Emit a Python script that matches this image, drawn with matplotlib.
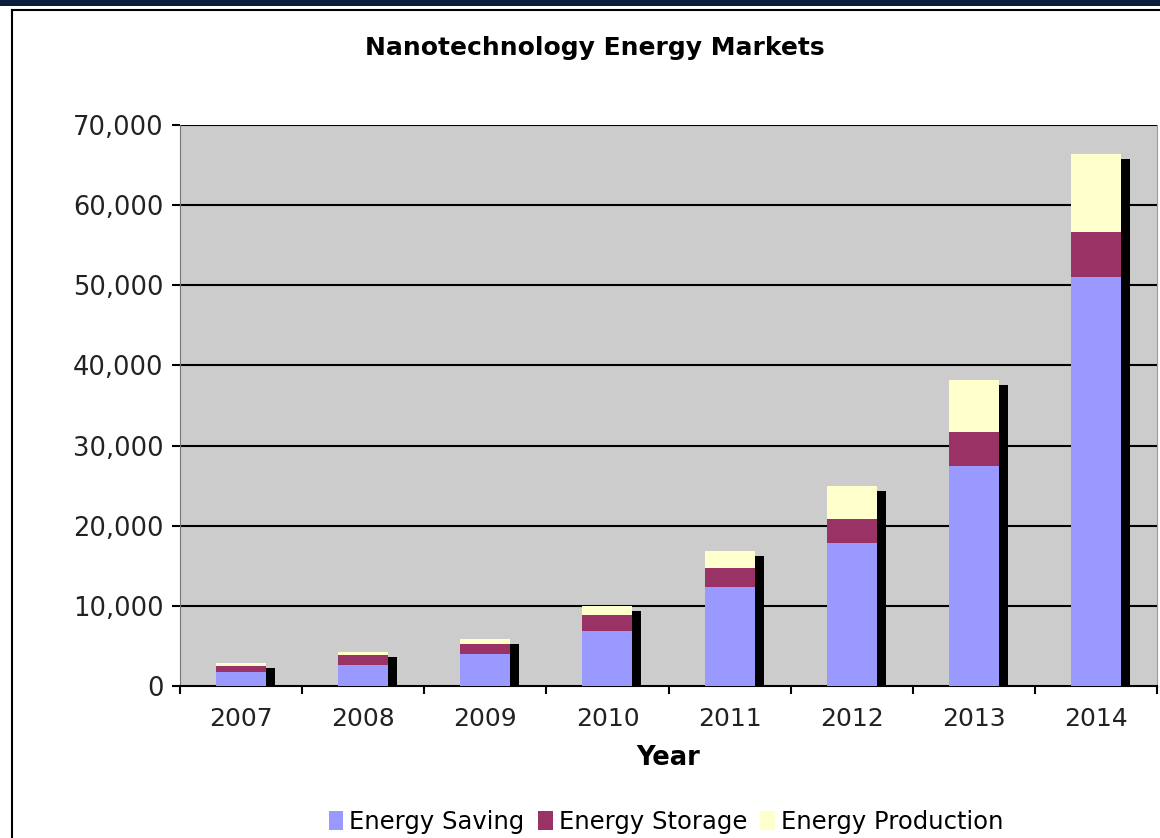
import matplotlib
matplotlib.use("Agg")
import matplotlib.pyplot as plt
from matplotlib.transforms import ScaledTranslation
from matplotlib.lines import Line2D
from matplotlib.patches import Rectangle, Patch
import numpy as np

years = ["2007", "2008", "2009", "2010", "2011", "2012", "2013", "2014"]
energy_saving = [1800, 2600, 3950, 6900, 12300, 17900, 27400, 51000]
energy_storage = [750, 1300, 1350, 2000, 2400, 3000, 4300, 5650]
energy_production = [350, 300, 550, 1100, 2150, 4050, 6500, 9700]
yticks = [0, 10000, 20000, 30000, 40000, 50000, 60000, 70000]

W, H = 1160, 838
fig = plt.figure(figsize=(W / 100, H / 100), dpi=100)
fig.patch.set_facecolor("white")

# outer frame
fig.patches.append(Rectangle((0, 1 - 6 / H), 1, 6 / H, transform=fig.transFigure,
                             facecolor="#0b1d3d", edgecolor="none"))
fig.lines.append(Line2D([12 / W, 12 / W], [0, 1 - 10 / H], transform=fig.transFigure,
                        color="black", lw=1.5))
fig.lines.append(Line2D([12 / W, 1], [1 - 10 / H, 1 - 10 / H], transform=fig.transFigure,
                        color="black", lw=1.5))

ax = fig.add_axes([180 / W, 1 - 686 / H, (1157 - 180) / W, (686 - 125) / H])
ax.set_facecolor("#CCCCCC")

x = np.arange(len(years))
saving = np.array(energy_saving)
storage = np.array(energy_storage)
production = np.array(energy_production)
total = saving + storage + production
bw = 0.41

shadow_tr = ax.transData + ScaledTranslation(9 / 100, -5 / 100, fig.dpi_scale_trans)
ax.bar(x, total, width=bw, color="black", transform=shadow_tr, zorder=2, clip_on=True)

ax.bar(x, saving, width=bw, color="#9999FF", zorder=3, label="Energy Saving")
ax.bar(x, storage, width=bw, bottom=saving, color="#993366", zorder=3, label="Energy Storage")
ax.bar(x, production, width=bw, bottom=saving + storage, color="#FFFFCC", zorder=3,
       label="Energy Production")

ax.set_xlim(-0.5, len(years) - 0.5)
ax.set_ylim(0, 70000)
ax.set_yticks(yticks)
ax.set_yticklabels([f"{v:,}" for v in yticks], fontsize=18.5, color="#222222")
ax.set_xticks(x)
ax.set_xticklabels(years, fontsize=18, color="#222222")
ax.tick_params(axis="x", length=0, pad=15)
ax.set_xticks(np.arange(-0.5, len(years)), minor=True)
ax.tick_params(axis="x", which="minor", length=6, width=1.5, direction="out", color="black")
ax.tick_params(axis="y", length=6, width=1.5, direction="out", color="black", pad=6)

for v in yticks[1:]:
    ax.axhline(v, color="black", lw=1.5, zorder=1)

ax.spines["left"].set_color("#777777")
ax.spines["right"].set_color("#999999")
ax.spines["top"].set_visible(False)
ax.spines["bottom"].set_color("black")
ax.spines["bottom"].set_linewidth(1.5)

ax.set_xlabel("Year", fontsize=18.5, fontweight="bold", labelpad=10)
fig.text(595 / W, 1 - 48 / H, "Nanotechnology Energy Markets", fontsize=18,
         fontweight="bold", ha="center", va="center")

handles = [Patch(facecolor="#9999FF"), Patch(facecolor="#993366"), Patch(facecolor="#FFFFCC")]
fig.legend(handles, ["Energy Saving", "Energy Storage", "Energy Production"],
           loc="center", bbox_to_anchor=(666 / W, 1 - 822 / H), ncol=3, frameon=False,
           fontsize=17.5, handlelength=0.6, handleheight=0.8, handletextpad=0.25,
           columnspacing=0.55)

fig.savefig("out.png", dpi=100)
